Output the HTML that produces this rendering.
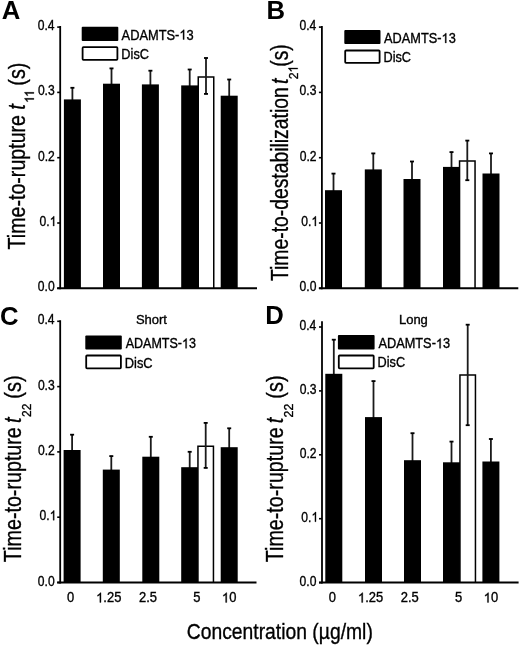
<!DOCTYPE html>
<html><head><meta charset="utf-8"><style>
html,body{margin:0;padding:0;background:#fff;}
svg{display:block;filter:blur(0.35px);}
text{font-family:"Liberation Sans", sans-serif;fill:#000;stroke:#000;stroke-width:0.35px;}
.h{fill-opacity:0;stroke-opacity:0;}
path{fill:#000;stroke:#000;}
</style></head><body>
<svg width="520" height="647" viewBox="0 0 520 647">
<rect x="0" y="0" width="520" height="647" fill="#fff"></rect>
<line x1="72.40" y1="87.50" x2="72.40" y2="100.40" stroke="#1a1a1a" stroke-width="1.8"></line>
<rect x="70.40" y="86.90" width="4.00" height="1.80" fill="#000"></rect>
<rect x="63.90" y="99.40" width="17.00" height="188.90" fill="#000"></rect>
<line x1="111.50" y1="68.10" x2="111.50" y2="84.70" stroke="#1a1a1a" stroke-width="1.8"></line>
<rect x="109.50" y="67.50" width="4.00" height="1.80" fill="#000"></rect>
<rect x="103.00" y="83.70" width="17.00" height="204.60" fill="#000"></rect>
<line x1="150.40" y1="70.40" x2="150.40" y2="85.40" stroke="#1a1a1a" stroke-width="1.8"></line>
<rect x="148.40" y="69.80" width="4.00" height="1.80" fill="#000"></rect>
<rect x="141.90" y="84.40" width="17.00" height="203.90" fill="#000"></rect>
<line x1="189.70" y1="69.20" x2="189.70" y2="86.40" stroke="#1a1a1a" stroke-width="1.8"></line>
<rect x="187.70" y="68.60" width="4.00" height="1.80" fill="#000"></rect>
<rect x="181.20" y="85.40" width="17.00" height="202.90" fill="#000"></rect>
<line x1="229.20" y1="79.20" x2="229.20" y2="96.70" stroke="#1a1a1a" stroke-width="1.8"></line>
<rect x="227.20" y="78.60" width="4.00" height="1.80" fill="#000"></rect>
<rect x="220.70" y="95.70" width="17.00" height="192.60" fill="#000"></rect>
<rect x="198.25" y="76.20" width="15.50" height="212.10" fill="#fff"></rect>
<path d="M198.25 288.30V76.95H213.75V288.30" fill="none" stroke="#000" stroke-width="1.5" style="stroke:#000;fill:none"></path>
<line x1="206.00" y1="57.70" x2="206.00" y2="94.20" stroke="#1a1a1a" stroke-width="1.8"></line>
<rect x="204.00" y="57.10" width="4.00" height="1.80" fill="#000"></rect>
<rect x="204.00" y="93.00" width="4.00" height="1.80" fill="#000"></rect>
<line x1="60.20" y1="26.00" x2="60.20" y2="289.30" stroke="#000" stroke-width="1.8"></line>
<line x1="57.20" y1="288.30" x2="257.00" y2="288.30" stroke="#000" stroke-width="2.0"></line>
<line x1="57.20" y1="288.30" x2="60.20" y2="288.30" stroke="#000" stroke-width="1.6"></line>
<g transform="translate(37.82,291.30) scale(0.8600,1)"><text font-size="14.1">0.0</text></g>
<line x1="57.20" y1="223.00" x2="60.20" y2="223.00" stroke="#000" stroke-width="1.6"></line>
<g transform="translate(39.57,226.00) scale(0.8600,1)"><text font-size="14.1">0.<tspan class="h">1</tspan></text><path d="M763 0H583V1102Q518 1042 412 983Q307 923 223 894V1061Q374 1129 487 1226Q600 1323 647 1409H763Z" transform="translate(11.761,0.000) scale(0.006885,-0.006885)" stroke-width="50.84"></path></g>
<line x1="57.20" y1="157.70" x2="60.20" y2="157.70" stroke="#000" stroke-width="1.6"></line>
<g transform="translate(37.95,160.70) scale(0.8600,1)"><text font-size="14.1">0.2</text></g>
<line x1="57.20" y1="92.40" x2="60.20" y2="92.40" stroke="#000" stroke-width="1.6"></line>
<g transform="translate(37.88,95.40) scale(0.8600,1)"><text font-size="14.1">0.3</text></g>
<line x1="57.20" y1="27.10" x2="60.20" y2="27.10" stroke="#000" stroke-width="1.6"></line>
<g transform="translate(37.70,30.10) scale(0.8600,1)"><text font-size="14.1">0.4</text></g>
<rect x="81.70" y="26.80" width="36.60" height="14.20" rx="1" fill="#000"></rect>
<rect x="82.60" y="47.20" width="34.80" height="12.60" rx="0.8" fill="#fff" stroke="#000" stroke-width="1.8"></rect>
<g transform="translate(121.57,39.50) scale(0.9058,1)"><text font-size="14.2">ADAMTS-<tspan class="h">1</tspan>3</text><path d="M763 0H583V1102Q518 1042 412 983Q307 923 223 894V1061Q374 1129 487 1226Q600 1323 647 1409H763Z" transform="translate(63.822,0.000) scale(0.006934,-0.006934)" stroke-width="50.48"></path></g>
<g transform="translate(121.35,58.90) scale(0.8982,1)"><text font-size="14.2">DisC</text></g>
<g transform="translate(1.66,18.75) scale(1.0000,1)"><text font-size="25.7" font-weight="bold" style="stroke-width:0">A</text></g>
<line x1="333.50" y1="173.30" x2="333.50" y2="191.20" stroke="#1a1a1a" stroke-width="1.8"></line>
<rect x="331.50" y="172.70" width="4.00" height="1.80" fill="#000"></rect>
<rect x="325.00" y="190.20" width="17.00" height="98.10" fill="#000"></rect>
<line x1="373.30" y1="153.10" x2="373.30" y2="170.40" stroke="#1a1a1a" stroke-width="1.8"></line>
<rect x="371.30" y="152.50" width="4.00" height="1.80" fill="#000"></rect>
<rect x="364.80" y="169.40" width="17.00" height="118.90" fill="#000"></rect>
<line x1="412.00" y1="161.20" x2="412.00" y2="180.00" stroke="#1a1a1a" stroke-width="1.8"></line>
<rect x="410.00" y="160.60" width="4.00" height="1.80" fill="#000"></rect>
<rect x="403.50" y="179.00" width="17.00" height="109.30" fill="#000"></rect>
<line x1="451.50" y1="151.80" x2="451.50" y2="167.90" stroke="#1a1a1a" stroke-width="1.8"></line>
<rect x="449.50" y="151.20" width="4.00" height="1.80" fill="#000"></rect>
<rect x="443.00" y="166.90" width="17.00" height="121.40" fill="#000"></rect>
<line x1="491.00" y1="153.10" x2="491.00" y2="174.50" stroke="#1a1a1a" stroke-width="1.8"></line>
<rect x="489.00" y="152.50" width="4.00" height="1.80" fill="#000"></rect>
<rect x="482.50" y="173.50" width="17.00" height="114.80" fill="#000"></rect>
<rect x="459.55" y="160.30" width="15.50" height="128.00" fill="#fff"></rect>
<path d="M459.55 288.30V161.05H475.05V288.30" fill="none" stroke="#000" stroke-width="1.5" style="stroke:#000;fill:none"></path>
<line x1="467.30" y1="140.30" x2="467.30" y2="180.50" stroke="#1a1a1a" stroke-width="1.8"></line>
<rect x="465.30" y="139.70" width="4.00" height="1.80" fill="#000"></rect>
<rect x="465.30" y="179.30" width="4.00" height="1.80" fill="#000"></rect>
<line x1="321.90" y1="26.00" x2="321.90" y2="289.30" stroke="#000" stroke-width="1.8"></line>
<line x1="318.90" y1="288.30" x2="518.30" y2="288.30" stroke="#000" stroke-width="2.0"></line>
<line x1="318.90" y1="288.30" x2="321.90" y2="288.30" stroke="#000" stroke-width="1.6"></line>
<g transform="translate(299.52,291.30) scale(0.8600,1)"><text font-size="14.1">0.0</text></g>
<line x1="318.90" y1="223.00" x2="321.90" y2="223.00" stroke="#000" stroke-width="1.6"></line>
<g transform="translate(301.27,226.00) scale(0.8600,1)"><text font-size="14.1">0.<tspan class="h">1</tspan></text><path d="M763 0H583V1102Q518 1042 412 983Q307 923 223 894V1061Q374 1129 487 1226Q600 1323 647 1409H763Z" transform="translate(11.761,0.000) scale(0.006885,-0.006885)" stroke-width="50.84"></path></g>
<line x1="318.90" y1="157.70" x2="321.90" y2="157.70" stroke="#000" stroke-width="1.6"></line>
<g transform="translate(299.65,160.70) scale(0.8600,1)"><text font-size="14.1">0.2</text></g>
<line x1="318.90" y1="92.40" x2="321.90" y2="92.40" stroke="#000" stroke-width="1.6"></line>
<g transform="translate(299.58,95.40) scale(0.8600,1)"><text font-size="14.1">0.3</text></g>
<line x1="318.90" y1="27.10" x2="321.90" y2="27.10" stroke="#000" stroke-width="1.6"></line>
<g transform="translate(299.40,30.10) scale(0.8600,1)"><text font-size="14.1">0.4</text></g>
<rect x="344.30" y="29.90" width="36.20" height="14.10" rx="1" fill="#000"></rect>
<rect x="345.20" y="50.50" width="34.40" height="12.40" rx="0.8" fill="#fff" stroke="#000" stroke-width="1.8"></rect>
<g transform="translate(384.08,42.90) scale(0.8995,1)"><text font-size="14.2">ADAMTS-<tspan class="h">1</tspan>3</text><path d="M763 0H583V1102Q518 1042 412 983Q307 923 223 894V1061Q374 1129 487 1226Q600 1323 647 1409H763Z" transform="translate(63.875,0.000) scale(0.006934,-0.006934)" stroke-width="50.48"></path></g>
<g transform="translate(383.46,62.20) scale(0.8947,1)"><text font-size="14.2">DisC</text></g>
<g transform="translate(266.38,18.75) scale(1.0000,1)"><text font-size="25.7" font-weight="bold" style="stroke-width:0">B</text></g>
<line x1="72.10" y1="434.40" x2="72.10" y2="451.00" stroke="#1a1a1a" stroke-width="1.8"></line>
<rect x="70.10" y="433.80" width="4.00" height="1.80" fill="#000"></rect>
<rect x="63.60" y="450.00" width="17.00" height="132.50" fill="#000"></rect>
<line x1="111.30" y1="455.80" x2="111.30" y2="470.60" stroke="#1a1a1a" stroke-width="1.8"></line>
<rect x="109.30" y="455.20" width="4.00" height="1.80" fill="#000"></rect>
<rect x="102.80" y="469.60" width="17.00" height="112.90" fill="#000"></rect>
<line x1="150.80" y1="436.50" x2="150.80" y2="457.70" stroke="#1a1a1a" stroke-width="1.8"></line>
<rect x="148.80" y="435.90" width="4.00" height="1.80" fill="#000"></rect>
<rect x="142.30" y="456.70" width="17.00" height="125.80" fill="#000"></rect>
<line x1="189.70" y1="451.50" x2="189.70" y2="468.20" stroke="#1a1a1a" stroke-width="1.8"></line>
<rect x="187.70" y="450.90" width="4.00" height="1.80" fill="#000"></rect>
<rect x="181.20" y="467.20" width="17.00" height="115.30" fill="#000"></rect>
<line x1="229.20" y1="428.00" x2="229.20" y2="448.20" stroke="#1a1a1a" stroke-width="1.8"></line>
<rect x="227.20" y="427.40" width="4.00" height="1.80" fill="#000"></rect>
<rect x="220.70" y="447.20" width="17.00" height="135.30" fill="#000"></rect>
<rect x="197.95" y="445.40" width="15.50" height="137.10" fill="#fff"></rect>
<path d="M197.95 582.50V446.15H213.45V582.50" fill="none" stroke="#000" stroke-width="1.5" style="stroke:#000;fill:none"></path>
<line x1="205.70" y1="422.60" x2="205.70" y2="468.20" stroke="#1a1a1a" stroke-width="1.8"></line>
<rect x="203.70" y="422.00" width="4.00" height="1.80" fill="#000"></rect>
<rect x="203.70" y="467.00" width="4.00" height="1.80" fill="#000"></rect>
<line x1="60.20" y1="320.20" x2="60.20" y2="583.50" stroke="#000" stroke-width="1.8"></line>
<line x1="57.20" y1="582.50" x2="256.50" y2="582.50" stroke="#000" stroke-width="2.0"></line>
<line x1="57.20" y1="582.50" x2="60.20" y2="582.50" stroke="#000" stroke-width="1.6"></line>
<g transform="translate(37.82,585.50) scale(0.8600,1)"><text font-size="14.1">0.0</text></g>
<line x1="57.20" y1="517.20" x2="60.20" y2="517.20" stroke="#000" stroke-width="1.6"></line>
<g transform="translate(39.57,520.20) scale(0.8600,1)"><text font-size="14.1">0.<tspan class="h">1</tspan></text><path d="M763 0H583V1102Q518 1042 412 983Q307 923 223 894V1061Q374 1129 487 1226Q600 1323 647 1409H763Z" transform="translate(11.761,0.000) scale(0.006885,-0.006885)" stroke-width="50.84"></path></g>
<line x1="57.20" y1="451.90" x2="60.20" y2="451.90" stroke="#000" stroke-width="1.6"></line>
<g transform="translate(37.95,454.90) scale(0.8600,1)"><text font-size="14.1">0.2</text></g>
<line x1="57.20" y1="386.60" x2="60.20" y2="386.60" stroke="#000" stroke-width="1.6"></line>
<g transform="translate(37.88,389.60) scale(0.8600,1)"><text font-size="14.1">0.3</text></g>
<line x1="57.20" y1="321.30" x2="60.20" y2="321.30" stroke="#000" stroke-width="1.6"></line>
<g transform="translate(37.70,324.30) scale(0.8600,1)"><text font-size="14.1">0.4</text></g>
<rect x="85.30" y="335.40" width="36.50" height="14.20" rx="1" fill="#000"></rect>
<rect x="86.20" y="355.50" width="34.70" height="12.80" rx="0.8" fill="#fff" stroke="#000" stroke-width="1.8"></rect>
<g transform="translate(125.68,348.30) scale(0.8818,1)"><text font-size="14.2">ADAMTS-<tspan class="h">1</tspan>3</text><path d="M763 0H583V1102Q518 1042 412 983Q307 923 223 894V1061Q374 1129 487 1226Q600 1323 647 1409H763Z" transform="translate(63.842,0.000) scale(0.006934,-0.006934)" stroke-width="50.48"></path></g>
<g transform="translate(124.75,367.60) scale(0.9051,1)"><text font-size="14.2">DisC</text></g>
<g transform="translate(0.10,325.10) scale(1.0000,1)"><text font-size="25.7" font-weight="bold" style="stroke-width:0">C</text></g>
<line x1="333.80" y1="339.40" x2="333.80" y2="374.80" stroke="#1a1a1a" stroke-width="1.8"></line>
<rect x="331.80" y="338.80" width="4.00" height="1.80" fill="#000"></rect>
<rect x="325.30" y="373.80" width="17.00" height="208.80" fill="#000"></rect>
<line x1="373.50" y1="380.80" x2="373.50" y2="418.10" stroke="#1a1a1a" stroke-width="1.8"></line>
<rect x="371.50" y="380.20" width="4.00" height="1.80" fill="#000"></rect>
<rect x="365.00" y="417.10" width="17.00" height="165.50" fill="#000"></rect>
<line x1="412.50" y1="432.90" x2="412.50" y2="461.20" stroke="#1a1a1a" stroke-width="1.8"></line>
<rect x="410.50" y="432.30" width="4.00" height="1.80" fill="#000"></rect>
<rect x="404.00" y="460.20" width="17.00" height="122.40" fill="#000"></rect>
<line x1="451.50" y1="441.30" x2="451.50" y2="463.30" stroke="#1a1a1a" stroke-width="1.8"></line>
<rect x="449.50" y="440.70" width="4.00" height="1.80" fill="#000"></rect>
<rect x="443.00" y="462.30" width="17.00" height="120.30" fill="#000"></rect>
<line x1="490.90" y1="438.70" x2="490.90" y2="462.50" stroke="#1a1a1a" stroke-width="1.8"></line>
<rect x="488.90" y="438.10" width="4.00" height="1.80" fill="#000"></rect>
<rect x="482.40" y="461.50" width="17.00" height="121.10" fill="#000"></rect>
<rect x="459.95" y="374.30" width="15.50" height="208.30" fill="#fff"></rect>
<path d="M459.95 582.60V375.05H475.45V582.60" fill="none" stroke="#000" stroke-width="1.5" style="stroke:#000;fill:none"></path>
<line x1="467.70" y1="324.40" x2="467.70" y2="425.50" stroke="#1a1a1a" stroke-width="1.8"></line>
<rect x="465.70" y="323.80" width="4.00" height="1.80" fill="#000"></rect>
<rect x="465.70" y="424.30" width="4.00" height="1.80" fill="#000"></rect>
<line x1="322.00" y1="321.20" x2="322.00" y2="583.60" stroke="#000" stroke-width="1.8"></line>
<line x1="319.00" y1="582.60" x2="518.60" y2="582.60" stroke="#000" stroke-width="2.0"></line>
<line x1="319.00" y1="582.60" x2="322.00" y2="582.60" stroke="#000" stroke-width="1.6"></line>
<g transform="translate(299.62,585.60) scale(0.8600,1)"><text font-size="14.1">0.0</text></g>
<line x1="319.00" y1="518.70" x2="322.00" y2="518.70" stroke="#000" stroke-width="1.6"></line>
<g transform="translate(301.37,521.70) scale(0.8600,1)"><text font-size="14.1">0.<tspan class="h">1</tspan></text><path d="M763 0H583V1102Q518 1042 412 983Q307 923 223 894V1061Q374 1129 487 1226Q600 1323 647 1409H763Z" transform="translate(11.761,0.000) scale(0.006885,-0.006885)" stroke-width="50.84"></path></g>
<line x1="319.00" y1="454.80" x2="322.00" y2="454.80" stroke="#000" stroke-width="1.6"></line>
<g transform="translate(299.75,457.80) scale(0.8600,1)"><text font-size="14.1">0.2</text></g>
<line x1="319.00" y1="390.90" x2="322.00" y2="390.90" stroke="#000" stroke-width="1.6"></line>
<g transform="translate(299.68,393.90) scale(0.8600,1)"><text font-size="14.1">0.3</text></g>
<line x1="319.00" y1="327.00" x2="322.00" y2="327.00" stroke="#000" stroke-width="1.6"></line>
<g transform="translate(299.50,330.00) scale(0.8600,1)"><text font-size="14.1">0.4</text></g>
<rect x="337.90" y="335.00" width="36.70" height="14.60" rx="1" fill="#000"></rect>
<rect x="338.80" y="355.50" width="34.90" height="12.80" rx="0.8" fill="#fff" stroke="#000" stroke-width="1.8"></rect>
<g transform="translate(378.38,348.30) scale(0.9008,1)"><text font-size="14.2">ADAMTS-<tspan class="h">1</tspan>3</text><path d="M763 0H583V1102Q518 1042 412 983Q307 923 223 894V1061Q374 1129 487 1226Q600 1323 647 1409H763Z" transform="translate(63.834,0.000) scale(0.006934,-0.006934)" stroke-width="50.48"></path></g>
<g transform="translate(377.56,367.20) scale(0.8947,1)"><text font-size="14.2">DisC</text></g>
<g transform="translate(265.18,323.70) scale(1.0000,1)"><text font-size="25.7" font-weight="bold" style="stroke-width:0">D</text></g>
<g transform="translate(135.91,324.20) scale(1.0000,1)"><text font-size="13">Short</text></g>
<g transform="translate(398.93,324.40) scale(1.0000,1)"><text font-size="13">Long</text></g>
<g transform="translate(66.89,602.40) scale(0.9200,1)"><text font-size="14.1">0</text></g>
<g transform="translate(96.14,602.40) scale(0.9200,1)"><text font-size="14.1"><tspan class="h">1</tspan>.25</text><path d="M763 0H583V1102Q518 1042 412 983Q307 923 223 894V1061Q374 1129 487 1226Q600 1323 647 1409H763Z" transform="translate(0.000,0.000) scale(0.006885,-0.006885)" stroke-width="50.84"></path></g>
<g transform="translate(138.93,602.40) scale(0.9200,1)"><text font-size="14.1">2.5</text></g>
<g transform="translate(193.21,602.40) scale(0.9200,1)"><text font-size="14.1">5</text></g>
<g transform="translate(221.93,602.40) scale(0.9200,1)"><text font-size="14.1"><tspan class="h">1</tspan>0</text><path d="M763 0H583V1102Q518 1042 412 983Q307 923 223 894V1061Q374 1129 487 1226Q600 1323 647 1409H763Z" transform="translate(0.000,0.000) scale(0.006885,-0.006885)" stroke-width="50.84"></path></g>
<g transform="translate(328.69,602.40) scale(0.9200,1)"><text font-size="14.1">0</text></g>
<g transform="translate(357.94,602.40) scale(0.9200,1)"><text font-size="14.1"><tspan class="h">1</tspan>.25</text><path d="M763 0H583V1102Q518 1042 412 983Q307 923 223 894V1061Q374 1129 487 1226Q600 1323 647 1409H763Z" transform="translate(0.000,0.000) scale(0.006885,-0.006885)" stroke-width="50.84"></path></g>
<g transform="translate(400.73,602.40) scale(0.9200,1)"><text font-size="14.1">2.5</text></g>
<g transform="translate(455.01,602.40) scale(0.9200,1)"><text font-size="14.1">5</text></g>
<g transform="translate(483.73,602.40) scale(0.9200,1)"><text font-size="14.1"><tspan class="h">1</tspan>0</text><path d="M763 0H583V1102Q518 1042 412 983Q307 923 223 894V1061Q374 1129 487 1226Q600 1323 647 1409H763Z" transform="translate(0.000,0.000) scale(0.006885,-0.006885)" stroke-width="50.84"></path></g>
<g transform="translate(186.72,638.80) scale(0.8475,1)"><text font-size="22.8">Concentration (µg/ml)</text></g>
<g transform="translate(24.90,249.44) rotate(-90) scale(0.7946,1)"><text font-size="24.7">Time-to-rupture</text></g>
<g transform="translate(24.90,109.79) rotate(-90) scale(0.8000,1)"><text font-size="24.7" font-style="italic">t</text></g>
<g transform="translate(33.90,102.96) rotate(-90) scale(0.9239,1)"><text font-size="13.5"><tspan class="h">11</tspan></text><path d="M763 0H583V1102Q518 1042 412 983Q307 923 223 894V1061Q374 1129 487 1226Q600 1323 647 1409H763Z" transform="translate(0.000,0.000) scale(0.006592,-0.006592)" stroke-width="53.10"></path><path d="M763 0H583V1102Q518 1042 412 983Q307 923 223 894V1061Q374 1129 487 1226Q600 1323 647 1409H763Z" transform="translate(6.492,0.000) scale(0.006592,-0.006592)" stroke-width="53.10"></path></g>
<g transform="translate(24.90,85.63) rotate(-90) scale(0.8004,1)"><text font-size="24.7">(s)</text></g>
<g transform="translate(288.40,281.03) rotate(-90) scale(0.7929,1)"><text font-size="24.4">Time-to-destabilization</text></g>
<g transform="translate(288.40,84.04) rotate(-90) scale(0.8000,1)"><text font-size="24.4" font-style="italic">t</text></g>
<g transform="translate(297.70,79.21) rotate(-90) scale(0.8939,1)"><text font-size="13.5">2<tspan class="h">1</tspan></text><path d="M763 0H583V1102Q518 1042 412 983Q307 923 223 894V1061Q374 1129 487 1226Q600 1323 647 1409H763Z" transform="translate(7.512,0.000) scale(0.006592,-0.006592)" stroke-width="53.10"></path></g>
<g transform="translate(288.40,66.69) rotate(-90) scale(0.7866,1)"><text font-size="24.4">(s)</text></g>
<g transform="translate(21.30,562.14) rotate(-90) scale(0.7976,1)"><text font-size="24.7">Time-to-rupture</text></g>
<g transform="translate(21.30,422.94) rotate(-90) scale(0.8000,1)"><text font-size="24.7" font-style="italic">t</text></g>
<g transform="translate(30.60,417.00) rotate(-90) scale(0.8859,1)"><text font-size="13.5">22</text></g>
<g transform="translate(21.30,398.64) rotate(-90) scale(0.8121,1)"><text font-size="24.7">(s)</text></g>
<g transform="translate(283.20,562.24) rotate(-90) scale(0.7982,1)"><text font-size="24.7">Time-to-rupture</text></g>
<g transform="translate(283.20,423.19) rotate(-90) scale(0.8000,1)"><text font-size="24.7" font-style="italic">t</text></g>
<g transform="translate(292.90,417.42) rotate(-90) scale(0.9152,1)"><text font-size="13.5">22</text></g>
<g transform="translate(283.20,398.63) rotate(-90) scale(0.8043,1)"><text font-size="24.7">(s)</text></g>
</svg>
</body></html>
